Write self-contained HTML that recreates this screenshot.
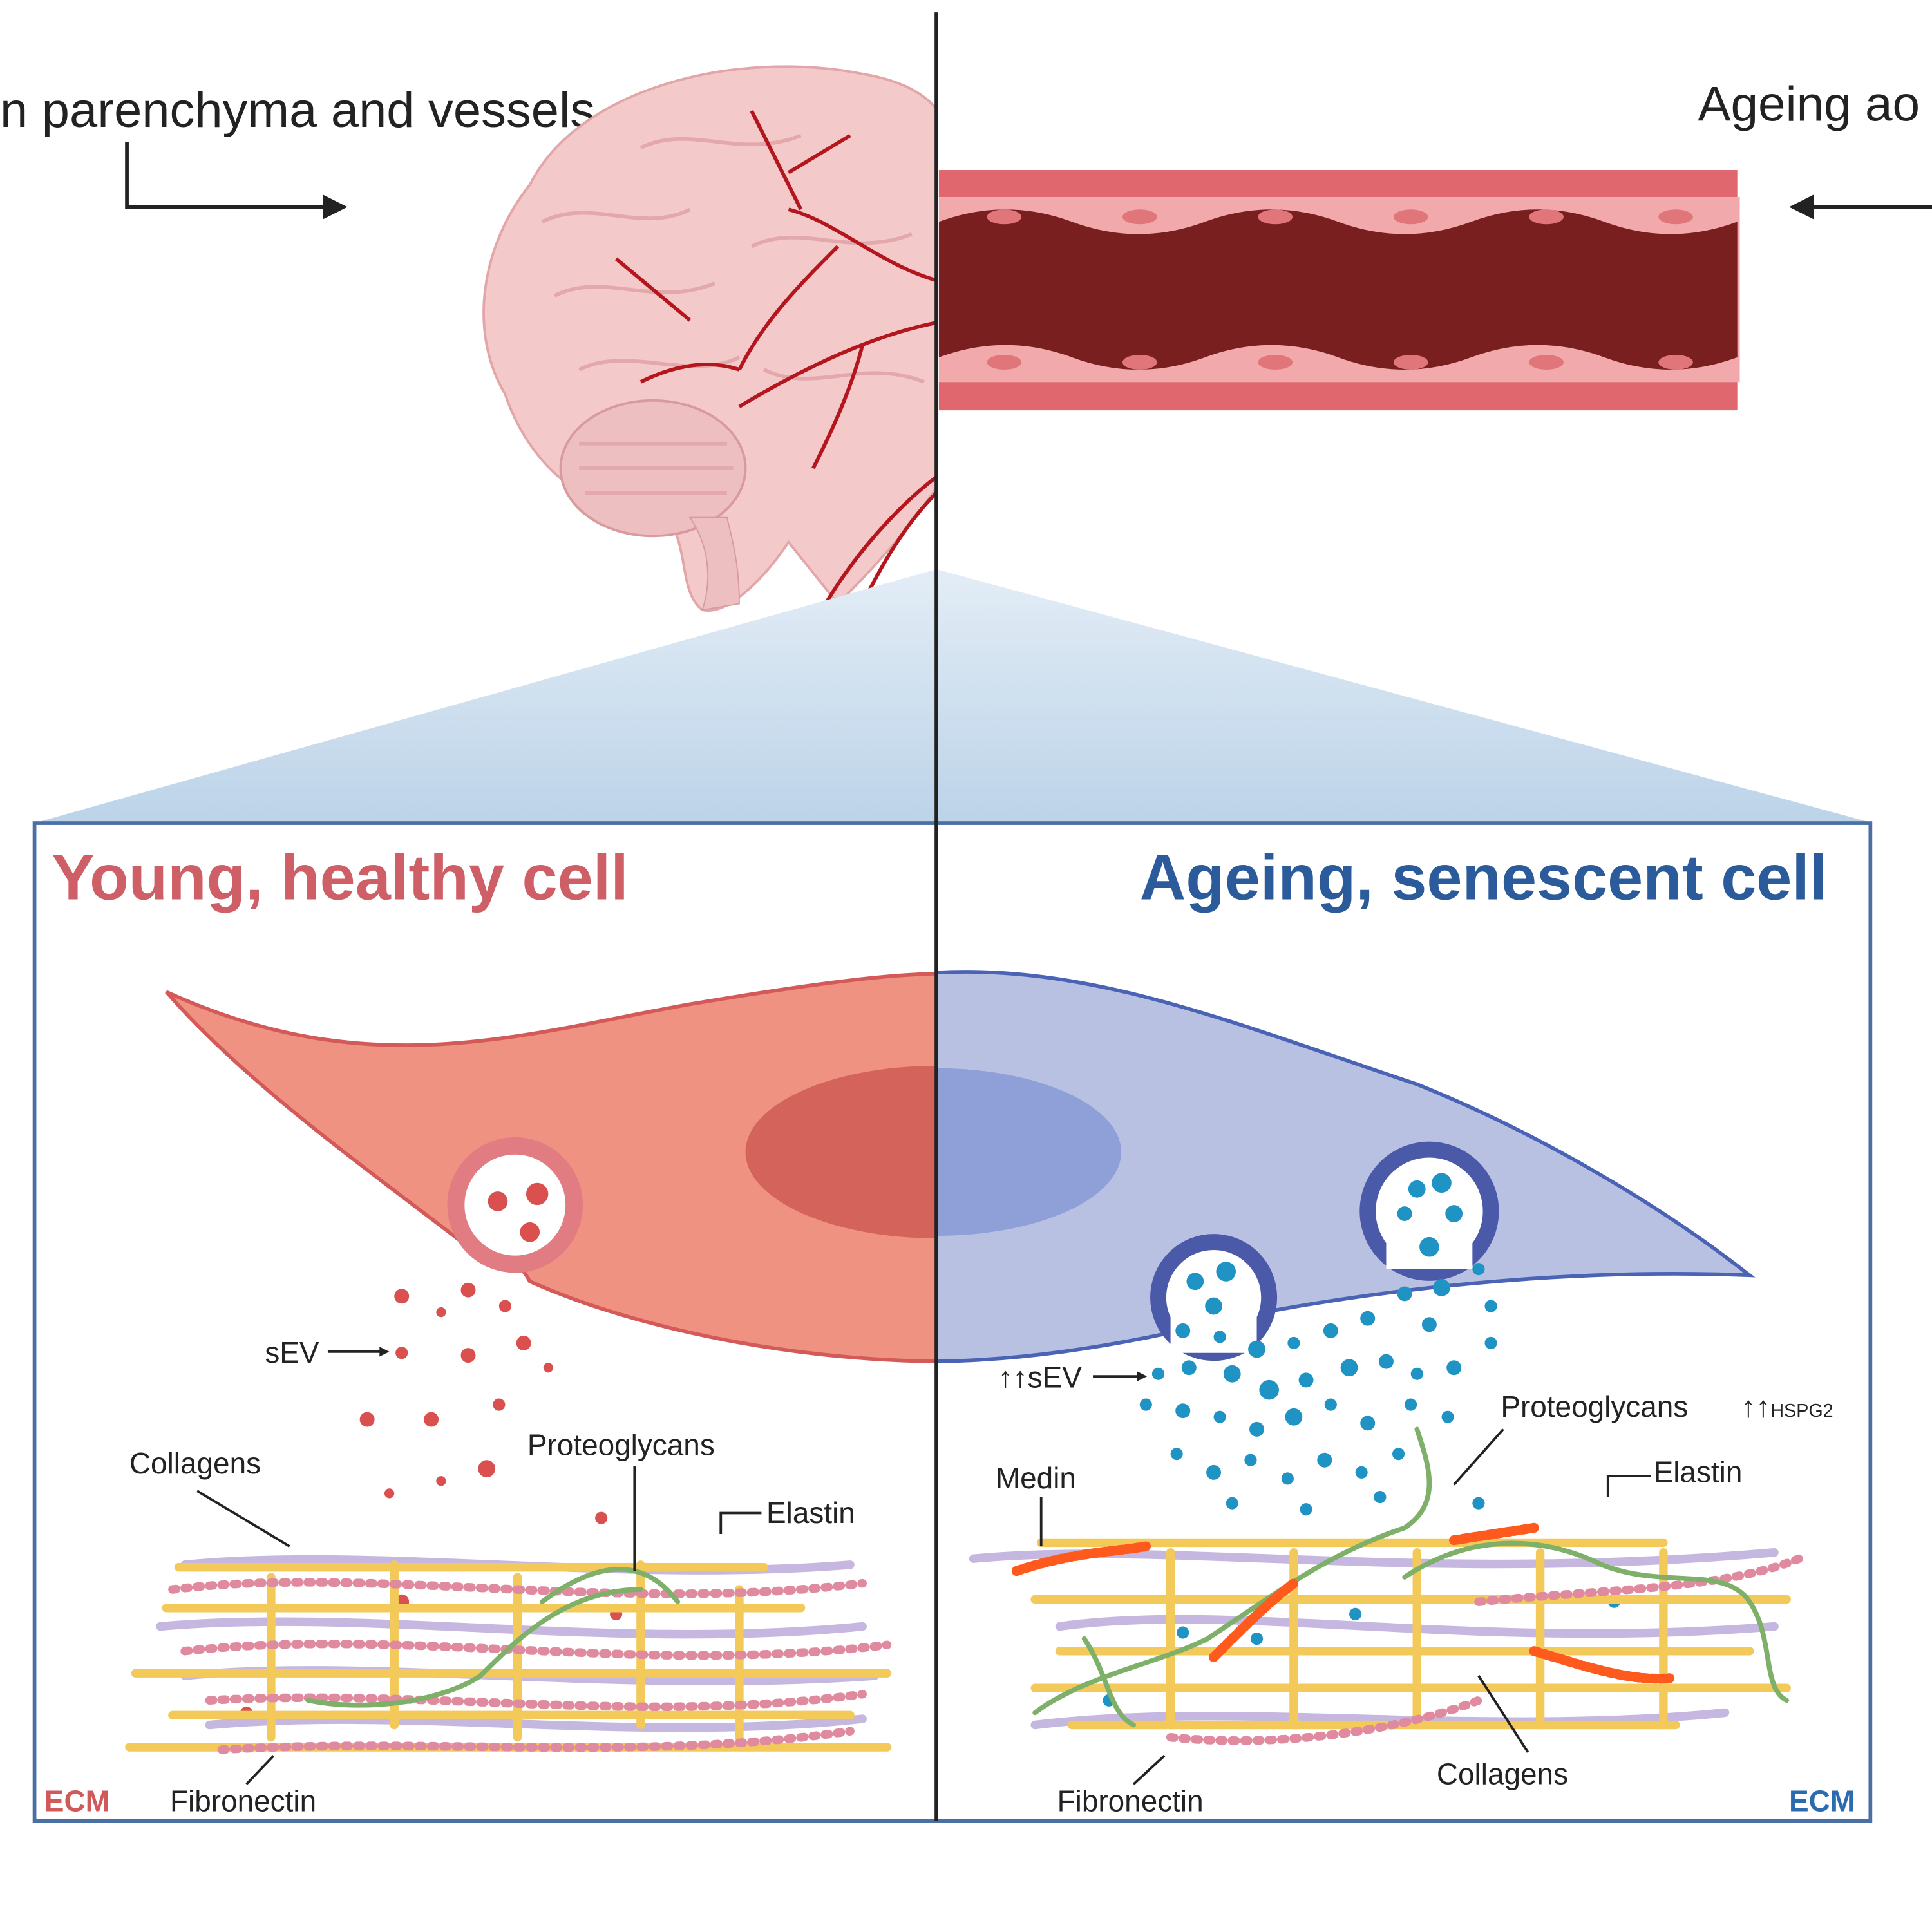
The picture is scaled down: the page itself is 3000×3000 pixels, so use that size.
<!DOCTYPE html>
<html><head><meta charset="utf-8"><style>
html,body{margin:0;padding:0;background:#fff;}
svg{display:block;}
text{font-family:"Liberation Sans",sans-serif;}
</style></head><body>
<svg width="3000" height="3000" viewBox="0 0 1568 1568" xmlns="http://www.w3.org/2000/svg">
<defs>
<linearGradient id="tri" x1="0" y1="0" x2="0" y2="1"><stop offset="0" stop-color="#e3edf6"/><stop offset="1" stop-color="#bcd3e8"/></linearGradient>
<clipPath id="leftHalf"><rect x="0" y="0" width="760" height="1568"/></clipPath>
<clipPath id="rightHalf"><rect x="760" y="0" width="808" height="1568"/></clipPath>
</defs>
<rect width="1568" height="1568" fill="#fff"/>

<text x="0" y="103" font-size="40" fill="#222" textLength="483" lengthAdjust="spacingAndGlyphs">n parenchyma and vessels</text>
<text x="1378" y="98" font-size="40" fill="#222">Ageing ao</text>
<path d="M103 115 V168 H268" fill="none" stroke="#222" stroke-width="3"/>
<path d="M282 168 L262 158 L262 178 Z" fill="#222"/>
<path d="M1568 168 H1470" fill="none" stroke="#222" stroke-width="3"/>
<path d="M1452 168 L1472 158 L1472 178 Z" fill="#222"/>

<g clip-path="url(#leftHalf)">
<path d="M430 150 C470 70 600 40 700 60 C760 70 780 100 770 150 L770 380 C740 430 700 470 680 490 L640 440 C620 470 590 500 570 495 C550 480 560 440 540 420 C480 420 430 380 410 320 C380 270 390 200 430 150 Z" fill="#f3c9c9" stroke="#e3a6a8" stroke-width="2"/>
<ellipse cx="530" cy="380" rx="75" ry="55" fill="#eebfc0" stroke="#d99a9d" stroke-width="2"/>
<path d="M560 420 C580 450 575 480 570 495 L600 490 C600 460 595 440 590 420 Z" fill="#eebfc0" stroke="#d99a9d"/>
<g fill="none" stroke="#e3a8ab" stroke-width="3">
<path d="M440 180 C480 160 520 190 560 170 M450 240 C490 220 530 250 580 230 M470 300 C510 280 560 310 600 290 M520 120 C560 100 600 130 650 110 M610 200 C650 180 690 210 740 190 M620 300 C660 320 700 290 750 310"/>
<path d="M470 360 H590 M470 380 H595 M475 400 H590"/>
</g>
<g fill="none" stroke="#b5161e" stroke-width="3">
<path d="M770 230 C720 220 680 180 640 170 M680 200 C650 230 620 260 600 300 M770 260 C710 270 650 300 600 330 M700 280 C690 320 670 360 660 380 M770 380 C740 400 700 440 670 490 M760 400 C730 430 710 470 700 490 M650 170 L610 90 M640 140 L690 110 M600 300 C570 290 540 300 520 310 M560 260 L500 210"/>
</g>
</g>

<rect x="762" y="138" width="648" height="22" fill="#e0676d"/>
<rect x="762" y="310" width="648" height="23" fill="#e0676d"/>
<rect x="762" y="160" width="650" height="150" fill="#f2a9ab"/>
<path d="M762 180 Q816 160 870 180 Q924 200 978 180 Q1032 160 1086 180 Q1140 200 1194 180 Q1248 160 1302 180 Q1356 200 1410 180 V290 Q1356 310 1302 290 Q1248 270 1194 290 Q1140 310 1086 290 Q1032 270 978 290 Q924 310 870 290 Q816 270 762 290 Z" fill="#7a1f1f"/>
<g fill="#e0767a">
<ellipse cx="815" cy="176" rx="14" ry="6"/><ellipse cx="925" cy="176" rx="14" ry="6"/><ellipse cx="1035" cy="176" rx="14" ry="6"/><ellipse cx="1145" cy="176" rx="14" ry="6"/><ellipse cx="1255" cy="176" rx="14" ry="6"/><ellipse cx="1360" cy="176" rx="14" ry="6"/>
<ellipse cx="815" cy="294" rx="14" ry="6"/><ellipse cx="925" cy="294" rx="14" ry="6"/><ellipse cx="1035" cy="294" rx="14" ry="6"/><ellipse cx="1145" cy="294" rx="14" ry="6"/><ellipse cx="1255" cy="294" rx="14" ry="6"/><ellipse cx="1360" cy="294" rx="14" ry="6"/>
</g>

<path d="M760 462 L28 668 H1520 Z" fill="url(#tri)"/>

<rect x="28" y="668" width="1490" height="810" fill="#fff" stroke="#4a6fa5" stroke-width="3"/>
<text x="42" y="730" font-size="52" font-weight="bold" fill="#cf5f66" textLength="468" lengthAdjust="spacingAndGlyphs">Young, healthy cell</text>
<text x="925" y="730" font-size="52" font-weight="bold" fill="#2b5b9a" textLength="558" lengthAdjust="spacingAndGlyphs">Ageing, senescent cell</text>

<g clip-path="url(#leftHalf)">
<path d="M135 805 C300 880 420 840 560 815 C650 800 720 790 770 790 L770 1105 C650 1105 520 1080 430 1040 C420 1020 400 1015 380 1012 C300 950 200 880 135 805 Z" fill="#ef9282" stroke="#d45a5a" stroke-width="3"/>
<ellipse cx="760" cy="935" rx="155" ry="70" fill="#d4635c"/>
<circle cx="418" cy="978" r="48" fill="#fff" stroke="#e07c82" stroke-width="14"/>
<circle cx="404" cy="975" r="8" fill="#d9504f"/><circle cx="436" cy="969" r="9" fill="#d9504f"/><circle cx="430" cy="1000" r="8" fill="#d9504f"/>
</g>
<g clip-path="url(#rightHalf)">
<path d="M750 790 C880 780 1000 830 1150 880 C1250 920 1350 980 1420 1035 C1300 1030 1150 1040 1000 1070 C900 1095 820 1105 750 1105 Z" fill="#b8c1e2" stroke="#4a63b5" stroke-width="3"/>
<ellipse cx="760" cy="935" rx="150" ry="68" fill="#8fa0d8"/>
<circle cx="1160" cy="983" r="50" fill="#fff" stroke="#4a5aa8" stroke-width="13"/>
<circle cx="985" cy="1053" r="45" fill="#fff" stroke="#4a5aa8" stroke-width="13"/>
<rect x="950" y="1058" width="70" height="40" fill="#fff"/>
<rect x="1125" y="990" width="70" height="40" fill="#fff"/>
</g>
<g fill="#1f93c4">
<circle cx="1150" cy="965" r="7"/><circle cx="1170" cy="960" r="8"/><circle cx="1140" cy="985" r="6"/><circle cx="1180" cy="985" r="7"/><circle cx="1160" cy="1012" r="8"/>
<circle cx="970" cy="1040" r="7"/><circle cx="995" cy="1032" r="8"/><circle cx="985" cy="1060" r="7"/>
<circle cx="960" cy="1080" r="6"/><circle cx="990" cy="1085" r="5"/><circle cx="1020" cy="1095" r="7"/><circle cx="1050" cy="1090" r="5"/><circle cx="1080" cy="1080" r="6"/><circle cx="1110" cy="1070" r="6"/><circle cx="1140" cy="1050" r="6"/><circle cx="1170" cy="1045" r="7"/><circle cx="1200" cy="1030" r="5"/><circle cx="1210" cy="1060" r="5"/><circle cx="1160" cy="1075" r="6"/>
<circle cx="940" cy="1115" r="5"/><circle cx="965" cy="1110" r="6"/><circle cx="1000" cy="1115" r="7"/><circle cx="1030" cy="1128" r="8"/><circle cx="1060" cy="1120" r="6"/><circle cx="1095" cy="1110" r="7"/><circle cx="1125" cy="1105" r="6"/><circle cx="1150" cy="1115" r="5"/><circle cx="1180" cy="1110" r="6"/><circle cx="1210" cy="1090" r="5"/>
<circle cx="930" cy="1140" r="5"/><circle cx="960" cy="1145" r="6"/><circle cx="990" cy="1150" r="5"/><circle cx="1020" cy="1160" r="6"/><circle cx="1050" cy="1150" r="7"/><circle cx="1080" cy="1140" r="5"/><circle cx="1110" cy="1155" r="6"/><circle cx="1145" cy="1140" r="5"/><circle cx="1175" cy="1150" r="5"/>
<circle cx="955" cy="1180" r="5"/><circle cx="985" cy="1195" r="6"/><circle cx="1015" cy="1185" r="5"/><circle cx="1045" cy="1200" r="5"/><circle cx="1075" cy="1185" r="6"/><circle cx="1105" cy="1195" r="5"/><circle cx="1135" cy="1180" r="5"/><circle cx="1000" cy="1220" r="5"/><circle cx="1060" cy="1225" r="5"/><circle cx="1120" cy="1215" r="5"/><circle cx="1200" cy="1220" r="5"/>
<circle cx="960" cy="1325" r="5"/><circle cx="1020" cy="1330" r="5"/><circle cx="1100" cy="1310" r="5"/><circle cx="1310" cy="1300" r="5"/><circle cx="900" cy="1380" r="5"/>
</g>
<g fill="#d9504f">
<circle cx="326" cy="1052" r="6"/><circle cx="380" cy="1047" r="6"/><circle cx="358" cy="1065" r="4"/><circle cx="410" cy="1060" r="5"/><circle cx="326" cy="1098" r="5"/><circle cx="380" cy="1100" r="6"/><circle cx="425" cy="1090" r="6"/><circle cx="445" cy="1110" r="4"/><circle cx="405" cy="1140" r="5"/><circle cx="298" cy="1152" r="6"/><circle cx="350" cy="1152" r="6"/><circle cx="395" cy="1192" r="7"/><circle cx="358" cy="1202" r="4"/><circle cx="316" cy="1212" r="4"/><circle cx="488" cy="1232" r="5"/><circle cx="326" cy="1300" r="6"/><circle cx="500" cy="1310" r="5"/><circle cx="200" cy="1390" r="5"/>
</g>

<g fill="none" stroke-linecap="round">
<g stroke="#b7a6d8" stroke-width="7" opacity="0.8">
<path d="M150 1270 C300 1255 500 1285 690 1270"/><path d="M130 1320 C300 1305 500 1340 700 1320"/><path d="M150 1360 C300 1345 500 1375 710 1360"/><path d="M170 1400 C330 1385 520 1415 700 1395"/>
<path d="M790 1265 C950 1250 1150 1285 1440 1260"/><path d="M860 1320 C1000 1300 1200 1340 1440 1320"/><path d="M840 1400 C1000 1380 1200 1410 1400 1390"/>
</g>
<g stroke="#f3c95a" stroke-width="7">
<path d="M145 1272 H620"/><path d="M135 1305 H650"/><path d="M110 1358 H720"/><path d="M140 1392 H690"/><path d="M105 1418 H720"/>
<path d="M220 1280 V1410 M320 1270 V1400 M420 1280 V1410 M520 1270 V1400 M600 1290 V1410"/>
<path d="M845 1252 H1350"/><path d="M840 1298 H1450"/><path d="M860 1340 H1420"/><path d="M840 1370 H1450"/><path d="M870 1400 H1360"/>
<path d="M950 1260 V1400 M1050 1260 V1400 M1150 1260 V1400 M1250 1260 V1400 M1350 1260 V1400"/>
</g>
<g stroke="#e08aa0" stroke-width="7" stroke-dasharray="3 7">
<path d="M140 1290 C300 1270 500 1310 700 1285"/><path d="M150 1340 C330 1320 520 1360 720 1335"/><path d="M170 1380 C350 1370 520 1400 700 1375"/><path d="M180 1420 C350 1410 520 1430 690 1405"/>
<path d="M1200 1300 C1300 1290 1400 1290 1460 1265"/><path d="M950 1410 C1050 1420 1150 1400 1200 1380"/>
</g>
<g stroke="#7fb06a" stroke-width="4">
<path d="M250 1380 C300 1390 360 1380 390 1360 C420 1330 460 1290 520 1290"/>
<path d="M440 1300 C480 1270 520 1260 550 1300"/>
<path d="M840 1390 C880 1360 940 1350 980 1330 C1040 1290 1080 1260 1140 1240 C1170 1220 1160 1190 1150 1160"/>
<path d="M1140 1280 C1200 1240 1260 1250 1300 1270 C1350 1290 1400 1270 1420 1300 C1440 1330 1430 1370 1450 1380"/>
<path d="M880 1330 C900 1360 900 1390 920 1400"/>
</g>
<g stroke="#ff5a1e" stroke-width="8" stroke-dasharray="4 3">
<path d="M825 1275 C870 1260 900 1260 930 1255"/><path d="M1245 1340 C1280 1350 1320 1365 1355 1362"/><path d="M985 1345 C1010 1320 1030 1300 1050 1285"/><path d="M1180 1250 L1245 1240"/>
</g>
</g>

<g font-size="24" fill="#222">
<text x="215" y="1106">sEV</text>
<text x="105" y="1196">Collagens</text>
<text x="428" y="1181">Proteoglycans</text>
<text x="622" y="1236">Elastin</text>
<text x="138" y="1470">Fibronectin</text>
<text x="810" y="1126">↑↑sEV</text>
<text x="808" y="1208">Medin</text>
<text x="1218" y="1150">Proteoglycans</text>
<text x="1413" y="1150">↑↑<tspan font-size="15">HSPG2</tspan></text>
<text x="1342" y="1203">Elastin</text>
<text x="858" y="1470">Fibronectin</text>
<text x="1166" y="1448">Collagens</text>
</g>
<text x="36" y="1470" font-size="24" font-weight="bold" fill="#d05a5a">ECM</text>
<text x="1452" y="1470" font-size="24" font-weight="bold" fill="#2b6bb0">ECM</text>
<g stroke="#222" stroke-width="2" fill="none">
<path d="M266 1097 H310"/><path d="M160 1210 L235 1255"/><path d="M515 1190 V1275"/><path d="M618 1228 H585 V1245"/>
<path d="M200 1448 L222 1425"/><path d="M887 1117 H925"/><path d="M845 1215 V1255"/><path d="M1220 1160 L1180 1205"/><path d="M1340 1198 H1305 V1215"/><path d="M920 1448 L945 1425"/><path d="M1240 1422 L1200 1360"/>
</g>
<g fill="#222"><path d="M316 1097 l-8 -4 v8z"/><path d="M931 1117 l-8 -4 v8z"/></g>

<path d="M760 10 V1478" stroke="#222" stroke-width="3"/>
</svg>
</body></html>
